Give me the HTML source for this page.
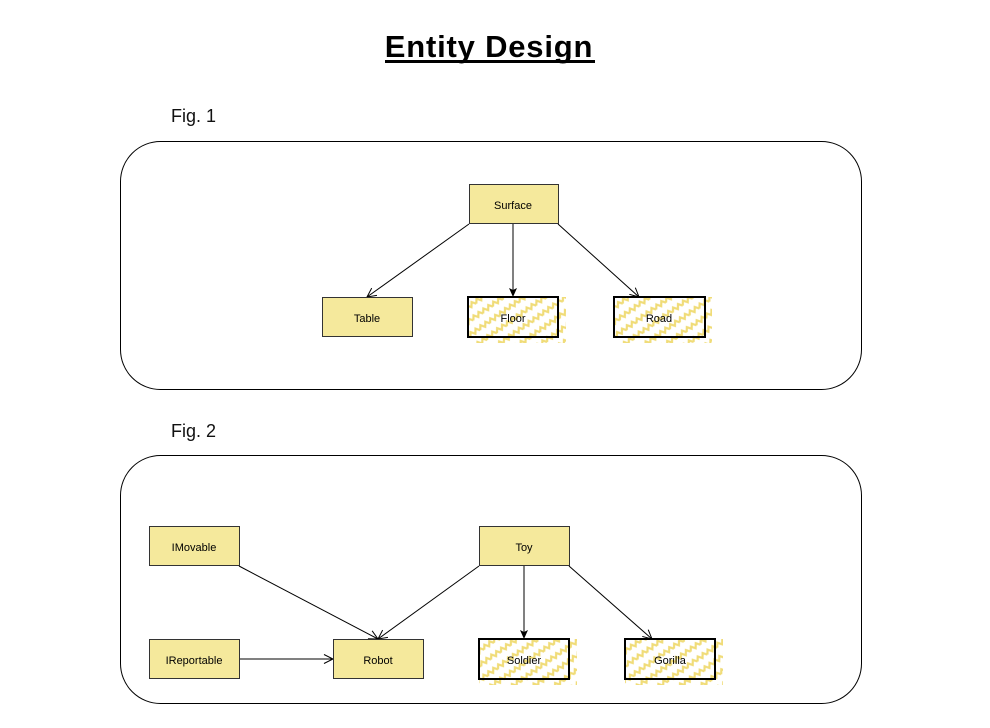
<!DOCTYPE html>
<html><head><meta charset="utf-8"><style>
html,body{margin:0;padding:0;background:#fff;}
svg{display:block;}
text{font-family:"Liberation Sans",sans-serif;}
</style></head><body>
<svg width="990" height="728" viewBox="0 0 990 728" xmlns="http://www.w3.org/2000/svg">
<defs>
<pattern id="hz" width="12" height="12" patternUnits="userSpaceOnUse" patternTransform="rotate(-35)">
<path d="M0 6 L3 2 L6 6 L9 2 L12 6" fill="none" stroke="#f0dc78" stroke-width="2.2"/>
</pattern>
<marker id="open" markerWidth="12" markerHeight="12" refX="10" refY="6" orient="auto" markerUnits="userSpaceOnUse">
<path d="M1 1.5 L10 6 L1 10.5" fill="none" stroke="#000" stroke-width="1"/>
</marker>
<marker id="fill" markerWidth="12" markerHeight="12" refX="10" refY="5" orient="auto" markerUnits="userSpaceOnUse">
<path d="M1 1 L10 5 L1 9 L3 5 Z" fill="#000"/>
</marker>
</defs>
<text x="489" y="57" text-anchor="middle" font-size="31" font-weight="bold" letter-spacing="0.8">Entity Design</text>
<rect x="385" y="60" width="210" height="3" fill="#000"/>
<text x="171" y="122" font-size="18" fill="#111">Fig. 1</text>
<text x="171" y="437" font-size="18" fill="#111">Fig. 2</text>
<rect x="120.5" y="141.5" width="741" height="248" rx="40" fill="none" stroke="#000"/>
<rect x="120.5" y="455.5" width="741" height="248" rx="40" fill="none" stroke="#000"/>
<g stroke="#000" stroke-width="1">
<line x1="469" y1="224" x2="367" y2="297" marker-end="url(#open)"/>
<line x1="513" y1="224" x2="513" y2="297" marker-end="url(#fill)"/>
<line x1="558" y1="224" x2="639" y2="297" marker-end="url(#open)"/>
<line x1="239" y1="566" x2="378" y2="639" marker-end="url(#open)"/>
<line x1="479" y1="566" x2="378" y2="639" marker-end="url(#open)"/>
<line x1="524" y1="566" x2="524" y2="639" marker-end="url(#fill)"/>
<line x1="569" y1="566" x2="652" y2="639" marker-end="url(#open)"/>
<line x1="239" y1="659" x2="333" y2="659" marker-end="url(#open)"/>
</g>
<g fill="#f5e99c" stroke="#333" stroke-width="1">
<rect x="469.5" y="184.5" width="89" height="39"/>
<rect x="322.5" y="297.5" width="90" height="39"/>
<rect x="149.5" y="526.5" width="90" height="39"/>
<rect x="479.5" y="526.5" width="90" height="39"/>
<rect x="149.5" y="639.5" width="90" height="39"/>
<rect x="333.5" y="639.5" width="90" height="39"/>
</g>
<g>
<rect x="468" y="297" width="98" height="46" fill="url(#hz)"/>
<rect x="614" y="297" width="98" height="46" fill="url(#hz)"/>
<rect x="479" y="639" width="98" height="46" fill="url(#hz)"/>
<rect x="625" y="639" width="98" height="46" fill="url(#hz)"/>
</g>
<g fill="none" stroke="#000" stroke-width="2">
<rect x="468" y="297" width="90" height="40"/>
<rect x="614" y="297" width="91" height="40"/>
<rect x="479" y="639" width="90" height="40"/>
<rect x="625" y="639" width="90" height="40"/>
</g>
<g font-size="11" text-anchor="middle" fill="#000">
<text x="513" y="209">Surface</text>
<text x="367" y="322">Table</text>
<text x="513" y="322">Floor</text>
<text x="659" y="322">Road</text>
<text x="194" y="551">IMovable</text>
<text x="524" y="551">Toy</text>
<text x="194" y="664">IReportable</text>
<text x="378" y="664">Robot</text>
<text x="524" y="664">Soldier</text>
<text x="670" y="664">Gorilla</text>
</g>
</svg>
</body></html>
